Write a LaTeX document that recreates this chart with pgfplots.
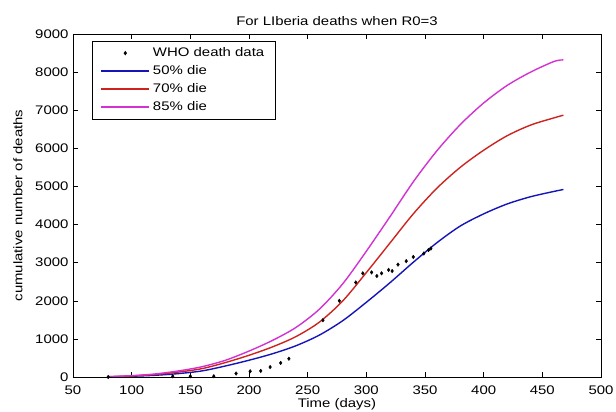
\documentclass[border=0pt]{standalone}
\usepackage{pgfplots}
\pgfplotsset{compat=1.18}
\usepackage{fontspec}
\setmainfont{Liberation Sans}[FakeStretch=1.2]
\definecolor{mblue}{RGB}{20,20,185}
\definecolor{mred}{RGB}{205,35,30}
\definecolor{mmag}{RGB}{210,50,210}
\pgfplotsset{
  linelegend/.style={legend image code/.code={\draw[##1] (0bp,0bp) -- (48bp,0bp);}},
  marklegend/.style={legend image code/.code={\draw[##1] plot coordinates {(24bp,0bp)};}},
}
\newcommand{\tf}{\fontsize{12.5}{14}\selectfont}
\begin{document}
\begin{tikzpicture}
\useasboundingbox (-73bp,-35bp) rectangle (543bp,377bp);
\begin{axis}[
  scale only axis,
  width=528bp, height=343bp,
  xmin=50, xmax=500, ymin=0, ymax=9000,
  xtick={50,100,...,500},
  ytick={0,1000,...,9000},
  tick align=inside,
  major tick length=5bp,
  tick style={black, line width=0.5pt},
  axis line style={black, line width=0.6pt},
  /pgf/number format/assume math mode=true,
  /pgf/number format/1000 sep={},
  tick label style={font=\tf},
  yticklabel style={xshift=-1bp},
  xticklabel style={yshift=-5bp},
  title={For LIberia deaths when R0=3},
  title style={font=\tf, yshift=-1bp},
  xlabel={Time (days)},
  ylabel={cumulative number of deaths},
  label style={font=\tf},
  xlabel style={yshift=3bp},
  ylabel style={yshift=6bp},
  legend cell align=left,
  legend style={at={(0.0366,0.98)}, anchor=north west, draw=black, line width=0.5pt,
    font=\tf, inner xsep=8bp, inner ysep=3bp, row sep=0bp,
    nodes={text height=9bp, text depth=3bp, inner ysep=3bp, inner xsep=3bp}},
]
\addplot[only marks, mark=diamond*, mark size=1.8pt, black, marklegend]
  coordinates {
  (80,0) (135,20) (150,20) (170,20) (189,90) (201,150) (210,160) (218,260)
  (227,370) (234,480) (263,1490) (277,2000) (291,2480) (297,2720) (304.5,2745)
  (309,2650) (313,2720) (319,2810) (322,2780) (327,2950) (334,3040) (340,3150)
  (349,3240) (353,3330) (355,3370)
  };
\addlegendentry{WHO death data}
\addplot[mblue, line width=1.4pt, smooth, linelegend]
  coordinates {
  (80,5) (100,20) (120,45) (140,90) (160,160) (180,290) (200,440) (220,610)
  (240,820) (260,1100) (280,1480) (300,1960) (320,2470) (340,3010) (360,3520)
  (380,3960) (400,4280) (420,4540) (440,4730) (460,4870) (468,4920)
  };
\addlegendentry{50\% die}
\addplot[mred, line width=1.4pt, smooth, linelegend]
  coordinates {
  (80,7) (100,28) (120,65) (140,130) (160,220) (180,380) (200,570) (220,790)
  (240,1060) (260,1440) (280,2000) (300,2740) (320,3510) (340,4280) (360,4950)
  (380,5500) (400,5950) (420,6330) (440,6610) (460,6800) (468,6870)
  };
\addlegendentry{70\% die}
\addplot[mmag, line width=1.4pt, smooth, linelegend]
  coordinates {
  (80,8) (100,35) (120,80) (140,160) (160,270) (180,440) (200,680) (220,960)
  (240,1300) (260,1780) (280,2450) (300,3300) (320,4200) (340,5120) (360,5930)
  (380,6620) (400,7190) (420,7650) (440,8000) (460,8280) (468,8320)
  };
\addlegendentry{85\% die}
\end{axis}
\end{tikzpicture}
\end{document}
